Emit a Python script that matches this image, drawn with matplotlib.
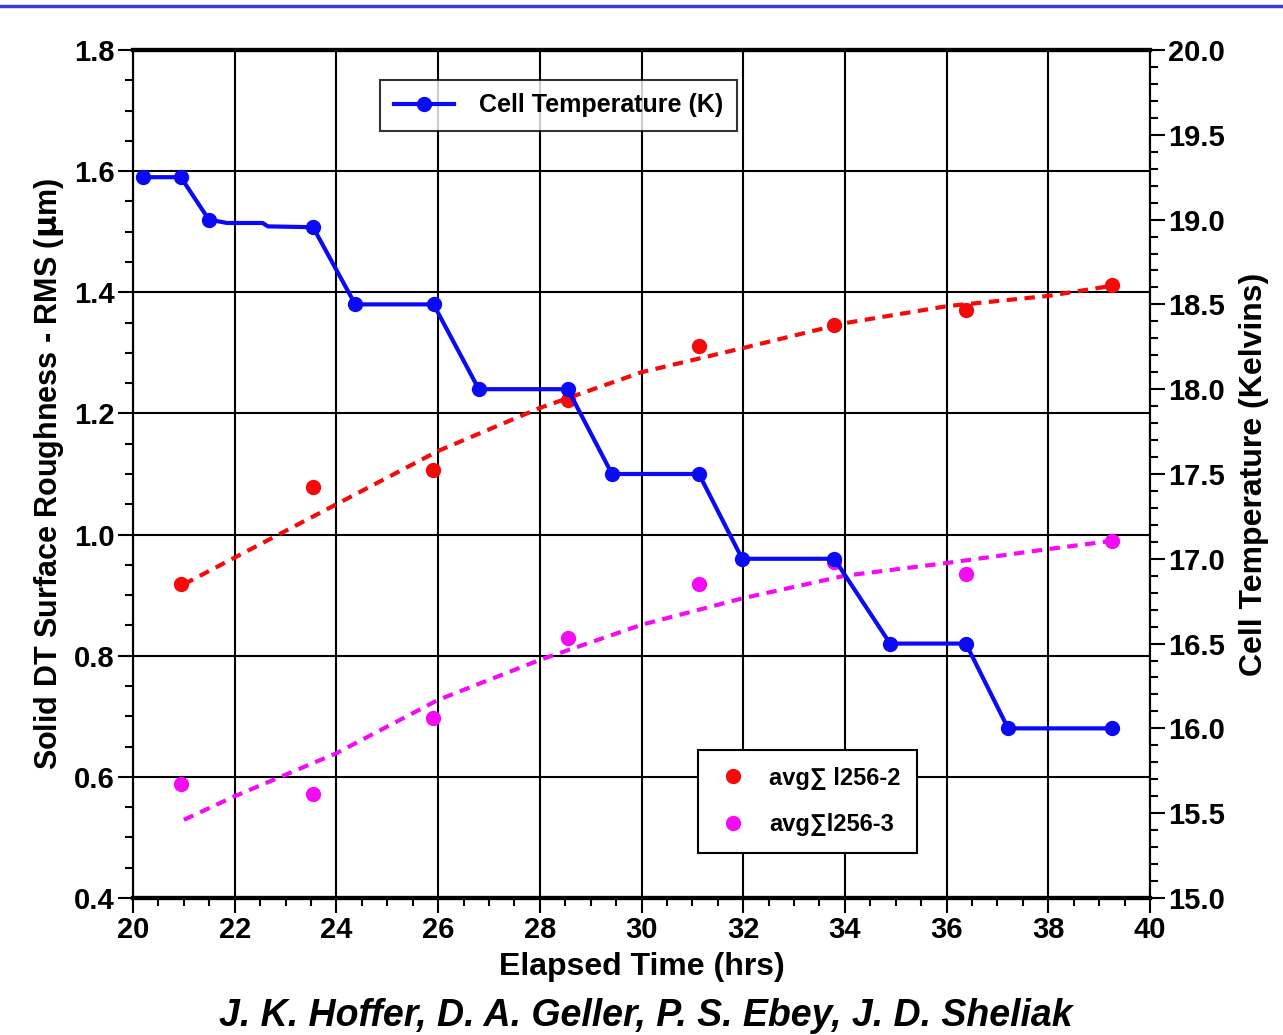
import matplotlib
matplotlib.use("Agg")
import matplotlib.pyplot as plt
from matplotlib.lines import Line2D
from matplotlib.ticker import MultipleLocator, FormatStrFormatter

# cell temperature (right axis), markers only on the measured points
temp_time = [20.2, 20.94, 21.49, 21.85, 22.55, 22.65, 23.54, 24.37, 25.91, 26.8, 28.55,
             29.42, 31.13, 31.98, 33.79, 34.89, 36.38, 37.21, 39.26]
cell_temp = [19.25, 19.25, 19.0, 18.98, 18.98, 18.96, 18.955, 18.5, 18.5, 18.0, 18.0,
             17.5, 17.5, 17.0, 17.0, 16.5, 16.5, 16.0, 16.0]
temp_marks = [0, 1, 2, 6, 7, 8, 9, 10, 11, 12, 13, 14, 15, 16, 17, 18]

# roughness measurements (left axis)
rough_time = [20.94, 23.54, 25.9, 28.55, 31.13, 33.79, 36.38, 39.26]
rough_2 = [0.918, 1.078, 1.107, 1.222, 1.311, 1.346, 1.371, 1.412]
rough_3 = [0.588, 0.572, 0.697, 0.829, 0.918, 0.955, 0.935, 0.989]

# dashed fit curves
fit_time = [21.0, 22.0, 24.0, 26.0, 28.0, 30.0, 32.0, 34.0, 36.0, 38.0, 39.2]
fit_2 = [0.918, 0.962, 1.05, 1.138, 1.209, 1.268, 1.308, 1.349, 1.377, 1.394, 1.41]
fit_3 = [0.529, 0.568, 0.639, 0.727, 0.793, 0.851, 0.895, 0.932, 0.953, 0.976, 0.989]

plt.rcParams["font.family"] = ["Liberation Sans", "DejaVu Sans"]
plt.rcParams["font.weight"] = "bold"
plt.rcParams["axes.labelweight"] = "bold"

BLUE = "#0a0af5"
RED = "#f50a0a"
MAGENTA = "#f50af5"


def main():
    fig = plt.figure(figsize=(12.83, 10.35), dpi=100)
    ax = fig.add_axes([0.1037, 0.1324, 0.7926, 0.8193])
    ax2 = ax.twinx()

    ax.plot(fit_time, fit_2, color=RED, lw=3, ls=(0, (2.5, 1.8)), zorder=3)
    ax.plot(fit_time, fit_3, color=MAGENTA, lw=3, ls=(0, (2.5, 1.8)), zorder=3)
    ax.plot(rough_time, rough_2, "o", color=RED, ms=10, zorder=4, label="avg\u2211 l256-2")
    ax.plot(rough_time, rough_3, "o", color=MAGENTA, ms=10, zorder=4, label="avg\u2211l256-3")

    ax2.plot(temp_time, cell_temp, "-o", color=BLUE, lw=3, ms=10, markevery=temp_marks,
             label="Cell Temperature (K)")

    ax.set_xlim(20, 40)
    ax.set_ylim(0.4, 1.8)
    ax2.set_ylim(15, 20)

    ax.xaxis.set_major_locator(MultipleLocator(2))
    ax.xaxis.set_minor_locator(MultipleLocator(0.5))
    ax.yaxis.set_major_locator(MultipleLocator(0.2))
    ax.yaxis.set_minor_locator(MultipleLocator(0.05))
    ax.yaxis.set_major_formatter(FormatStrFormatter("%.1f"))
    ax2.yaxis.set_major_locator(MultipleLocator(0.5))
    ax2.yaxis.set_minor_locator(MultipleLocator(0.1))
    ax2.yaxis.set_major_formatter(FormatStrFormatter("%.1f"))

    ax.grid(True, which="major", color="black", lw=1.5)
    ax.set_axisbelow(True)

    for a in (ax, ax2):
        a.tick_params(which="major", direction="out", length=11, width=1.5,
                      labelsize=21, pad=2)
        a.tick_params(which="minor", direction="out", length=6, width=1.5)
        for s in ("top", "bottom"):
            a.spines[s].set_linewidth(3)
        for s in ("left", "right"):
            a.spines[s].set_linewidth(1.5)

    ax.set_xlabel("Elapsed Time (hrs)", fontsize=23, labelpad=6)
    ax.set_ylabel("Solid DT Surface Roughness - RMS ($\\mathbf{\\mu}$m)", fontsize=22, labelpad=6)
    ax2.set_ylabel("Cell Temperature (Kelvins)", fontsize=23, labelpad=10)

    leg1 = ax2.legend(loc="upper left", bbox_to_anchor=(0.243, 0.965), fontsize=18,
                      frameon=True, fancybox=False, handlelength=2.4, handletextpad=1.0,
                      borderpad=0.55, borderaxespad=0)
    leg1.get_frame().set_edgecolor("black")
    leg1.get_frame().set_linewidth(1.5)

    leg2 = ax.legend(loc="upper left", bbox_to_anchor=(0.556, 0.1745), fontsize=17,
                     frameon=True, fancybox=False, handlelength=1.5, borderpad=0.7,
                     labelspacing=1.0, borderaxespad=0, framealpha=1)
    leg2.get_frame().set_edgecolor("black")
    leg2.get_frame().set_linewidth(1.5)

    # blue rule across the top of the slide
    fig.add_artist(Line2D([0, 1], [0.9945, 0.9945], color="#3c3cd2", lw=2.5,
                          transform=fig.transFigure))

    fig.text(0.503, 0.018, "J. K. Hoffer, D. A. Geller, P. S. Ebey, J. D. Sheliak",
             ha="center", va="center", fontsize=27, style="italic", weight="bold")

    fig.savefig("out.png", dpi=100)
    plt.close(fig)


if __name__ == "__main__":
    main()
